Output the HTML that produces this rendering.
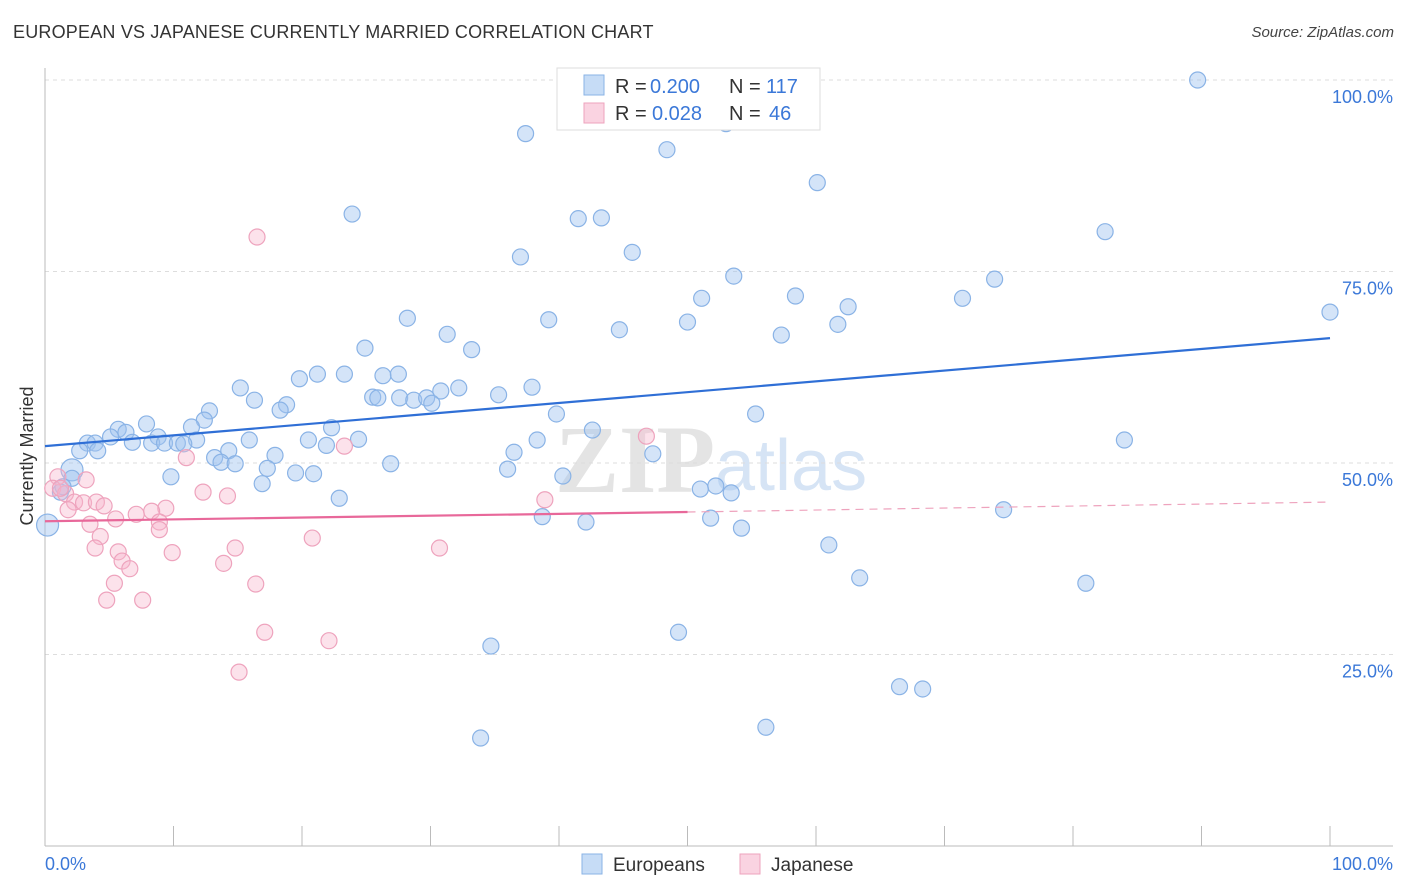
<!DOCTYPE html>
<html><head><meta charset="utf-8">
<style>
body{margin:0;background:#fff;font-family:"Liberation Sans",sans-serif;}
#wrap{position:relative;width:1406px;height:892px;overflow:hidden}
.t{position:absolute;white-space:nowrap}
</style></head>
<body>
<div id="wrap">
<div class="t" style="left:13px;top:22px;font-size:18px;color:#333;letter-spacing:0.2px">EUROPEAN VS JAPANESE CURRENTLY MARRIED CORRELATION CHART</div>
<div class="t" style="right:12px;top:24px;font-size:15px;color:#444;font-style:italic">Source: ZipAtlas.com</div>
<svg id="plot" width="1406" height="892" style="position:absolute;left:0;top:0"></svg>
</div>
<script>
const yTicks=[25,50,75,100];
const yTickLabels=["25.0%","50.0%","75.0%","100.0%"];
const euroX=[89.7,37.4,48.4,53.0,60.1,23.9,41.5,43.3,82.5,37.0,45.7,53.6,73.9,51.1,58.4,71.4,62.5,100,28.2,39.2,50.0,61.7,31.3,44.7,57.3,24.9,33.2,19.8,21.2,23.3,26.3,27.5,15.2,32.2,37.9,30.8,35.3,25.5,25.9,27.6,28.7,29.7,30.1,16.3,18.8,18.3,12.8,39.8,55.3,12.4,7.9,11.4,22.3,5.7,6.3,42.6,5.1,8.8,11.8,15.9,24.4,20.5,38.3,84.0,3.3,3.9,6.8,8.3,9.3,10.3,10.8,21.9,2.7,4.1,14.3,36.5,47.3,17.9,13.2,13.7,14.8,26.9,17.3,36.0,2.1,19.5,20.9,9.8,40.3,16.9,52.2,51.0,53.4,22.9,1.2,74.6,38.7,51.8,42.1,54.2,0.2,61.0,63.4,81.0,49.3,34.7,66.5,68.3,56.1,33.9,2.1,1.4];
const euroY=[100.0,93.0,90.9,94.3,86.6,82.5,81.9,82.0,80.2,76.9,77.5,74.4,74.0,71.5,71.8,71.5,70.4,69.7,68.9,68.7,68.4,68.1,66.8,67.4,66.7,65.0,64.8,61.0,61.6,61.6,61.4,61.6,59.8,59.8,59.9,59.4,58.9,58.6,58.5,58.5,58.2,58.5,57.8,58.2,57.6,56.9,56.8,56.4,56.4,55.6,55.1,54.7,54.6,54.4,54.0,54.3,53.4,53.4,53.0,53.0,53.1,53.0,53.0,53.0,52.6,52.6,52.7,52.6,52.6,52.6,52.5,52.3,51.6,51.6,51.6,51.4,51.2,51.0,50.7,50.1,49.9,49.9,49.3,49.2,49.1,48.7,48.6,48.2,48.3,47.3,47.0,46.6,46.1,45.4,46.2,43.9,43.0,42.8,42.3,41.5,41.9,39.3,35.0,34.3,27.9,26.1,20.8,20.5,15.5,14.1,48.0,46.9];
const japX=[16.5,11.0,46.8,23.3,38.9,12.3,14.2,3.2,1.0,0.6,1.6,2.3,3.0,4.0,4.6,1.8,9.4,8.3,7.1,5.5,3.5,8.9,8.9,4.3,20.8,3.9,14.8,30.7,5.7,9.9,6.0,13.9,6.6,5.4,16.4,4.8,7.6,17.1,22.1,15.1,1.2];
const japY=[79.5,50.7,53.5,52.2,45.2,46.2,45.7,47.8,48.2,46.7,46.0,44.9,44.8,44.9,44.4,43.9,44.1,43.7,43.3,42.7,42.0,42.3,41.3,40.4,40.2,38.9,38.9,38.9,38.4,38.3,37.2,36.9,36.2,34.3,34.2,32.1,32.1,27.9,26.8,22.7,46.7];
const euroTrend=[52.2,66.3];
const japTrend=[42.4,43.6,44.9];

const X0=45,X1=1330,Y0=846,Y100=80;
const sx=v=>X0+(X1-X0)*v/100;
const sy=v=>Y0-(Y0-Y100)*v/100;
const svg=document.getElementById('plot');
const NS='http://www.w3.org/2000/svg';
function mk(tag,attrs,parent){const e=document.createElementNS(NS,tag);for(const k in attrs)e.setAttribute(k,attrs[k]);(parent||svg).appendChild(e);return e;}

// watermark
const wm=mk('text',{x:555,y:492,'font-size':96,fill:'#e4e4e4','font-family':'Liberation Serif, serif','font-weight':'bold'});
wm.textContent='ZIP';


const wm2=mk('text',{x:715,y:490,'font-size':72,fill:'#d6e4f5','font-family':'Liberation Sans, sans-serif'});
wm2.textContent='atlas';



// gridlines
yTicks.forEach((v,i)=>{
  const g=mk('line',{x1:X0,x2:1393,y1:sy(v),y2:sy(v),stroke:'#dddddd','stroke-dasharray':'4,4'});
  
  
  const t=mk('text',{x:1393,y:sy(v)+23,'text-anchor':'end','font-size':18,fill:'#3b78d8'});
  t.textContent=yTickLabels[i];
  
  
});
// axes
const ax=mk('line',{x1:X0,x2:X0,y1:68,y2:Y0,stroke:'#bbb'});


const bx=mk('line',{x1:X0,x2:1393,y1:Y0,y2:Y0,stroke:'#bbb'});


for(let i=0;i<=10;i++){
  const tk=mk('line',{x1:sx(i*10),x2:sx(i*10),y1:826,y2:Y0,stroke:'#bbb'});
  
  
}
const xl=mk('text',{x:45,y:870,'font-size':18,fill:'#3b78d8'});xl.textContent='0.0%';


const xr=mk('text',{x:1393,y:870,'font-size':18,fill:'#3b78d8','text-anchor':'end'});xr.textContent='100.0%';


const yt=mk('text',{x:0,y:0,'font-size':18,fill:'#333','text-anchor':'middle',transform:'translate(33,456) rotate(-90)'});yt.textContent='Currently Married';



// points
euroX.forEach((x,i)=>{
  const big=(x<2.5&&(euroY[i]>48.5&&euroY[i]<49.5||euroY[i]<42.5&&x<1));
  const c=mk('circle',{cx:sx(x),cy:sy(euroY[i]),r:big?11:8,fill:'rgba(160,196,240,0.45)',stroke:'#8ab3e6','stroke-width':1.2});
  
  
});
japX.forEach((x,i)=>{
  const c=mk('circle',{cx:sx(x),cy:sy(japY[i]),r:8,fill:'rgba(247,182,205,0.4)',stroke:'#eea3bd','stroke-width':1.2});
  
  
});
// trends
const bl=mk('line',{x1:sx(0),y1:sy(euroTrend[0]),x2:sx(100),y2:sy(euroTrend[1]),stroke:'#2f6fd6','stroke-width':2.2});


const pl=mk('line',{x1:sx(0),y1:sy(japTrend[0]),x2:sx(50),y2:sy(japTrend[1]),stroke:'#e8689a','stroke-width':2.2});


const pd=mk('line',{x1:sx(50),y1:sy(japTrend[1]),x2:sx(100),y2:sy(japTrend[2]),stroke:'#eea3bd','stroke-width':1.2,'stroke-dasharray':'8,6'});



// legend box
const lg=mk('g',{});


mk('rect',{x:557,y:68,width:263,height:62,fill:'#fff',stroke:'#ddd'},lg);
mk('rect',{x:584,y:75,width:20,height:20,fill:'rgba(160,196,240,0.6)',stroke:'#8ab3e6'},lg);
mk('rect',{x:584,y:103,width:20,height:20,fill:'rgba(247,182,205,0.6)',stroke:'#eea3bd'},lg);
function lt(x,y,s,c,anchor){const t=mk('text',{x:x,y:y,'font-size':20,fill:c,'text-anchor':anchor||'start'},lg);t.textContent=s;return t;}
lt(615,93,'R =','#333');lt(650,93,'0.200','#3b78d8');lt(729,93,'N =','#333');lt(766,93,'117','#3b78d8');
lt(615,120,'R =','#333');lt(652,120,'0.028','#3b78d8');lt(729,120,'N =','#333');lt(769,120,'46','#3b78d8');

// bottom legend
const bl2=mk('g',{});


mk('rect',{x:582,y:854,width:20,height:20,fill:'rgba(160,196,240,0.6)',stroke:'#8ab3e6'},bl2);
const e1=mk('text',{x:613,y:871,'font-size':19,fill:'#333'},bl2);e1.textContent='Europeans';
mk('rect',{x:740,y:854,width:20,height:20,fill:'rgba(247,182,205,0.6)',stroke:'#eea3bd'},bl2);
const e2=mk('text',{x:771,y:871,'font-size':19,fill:'#333'},bl2);e2.textContent='Japanese';
</script>
</body></html>
